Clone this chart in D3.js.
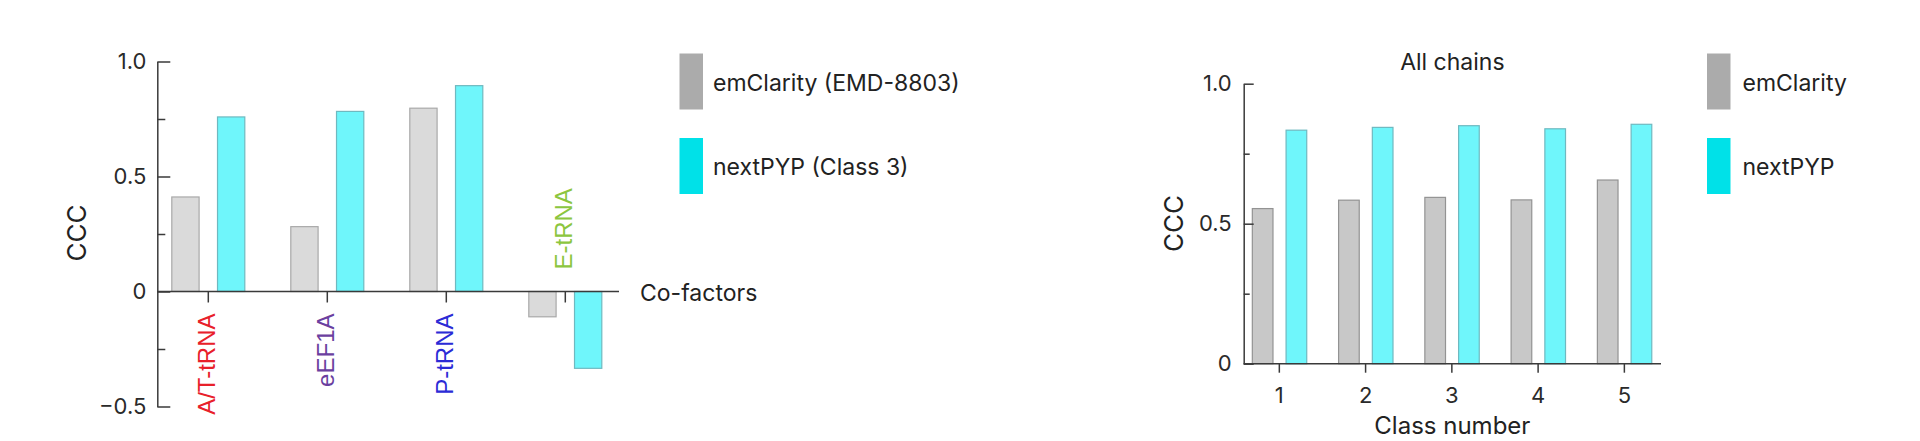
<!DOCTYPE html>
<html>
<head>
<meta charset="utf-8">
<script src="https://cdn.jsdelivr.net/npm/d3@7"></script>
<style>
  html, body { margin: 0; padding: 0; background: #fff; }
  svg { display: block; }
  text { font-family: Inter, "Noto Sans", sans-serif; }
</style>
</head>
<body>
<svg id="chart" width="1920" height="441"></svg>
<script>
// ---------- data ----------
const cofactors = ["A/T-tRNA", "eEF1A", "P-tRNA", "E-tRNA"];
const cofactorColors = ["#e8202a", "#6b3fa0", "#2b2bd6", "#8cc63f"];
const emClarityCofactor = [0.411, 0.282, 0.797, -0.110];
const nextPYPCofactor = [0.759, 0.783, 0.895, -0.334];

const classes = ["1", "2", "3", "4", "5"];
const emClarityClass = [0.554, 0.584, 0.594, 0.585, 0.656];
const nextPYPClass = [0.834, 0.844, 0.850, 0.839, 0.855];

const leftMajorTicks = [-0.5, 0, 0.5, 1.0];
const leftMinorTicks = [-0.25, 0.25, 0.75];
const rightMajorTicks = [0, 0.5, 1.0];
const rightMinorTicks = [0.25, 0.75];

const seriesKeys = ["emClarity", "nextPYP"];
const leftLegend = ["emClarity (EMD-8803)", "nextPYP (Class 3)"];
const rightLegend = ["emClarity", "nextPYP"];

// ---------- styles ----------
const axisColor = "#3a3a3a";
const textColor = "#222";
const legendColors = ["#ababab", "#00e1e8"];
const cyanFill = "#6ff6fb", cyanStroke = "#6fb9c0";

const svg = d3.select("#chart");

function fmt(v) {
  if (v === 0) return "0";
  const s = d3.format(".1f")(Math.abs(v));
  return (v < 0 ? "\u2212" : "") + s;
}

function drawYAxis(g, y, major, minor, majorLen, minorLen, pad) {
  g.append("g")
    .call(d3.axisLeft(y).tickValues(minor).tickSizeInner(-minorLen).tickSizeOuter(0).tickFormat(""))
    .call(s => s.select(".domain").remove());
  const a = g.append("g")
    .call(d3.axisLeft(y).tickValues(major).tickSizeInner(-majorLen).tickSizeOuter(0).tickPadding(pad).tickFormat(fmt));
  a.selectAll("path, line").attr("stroke", axisColor).attr("stroke-width", 1.5);
  g.selectAll("line").attr("stroke", axisColor).attr("stroke-width", 1.5);
  a.selectAll("text").style("font-family", "Inter, sans-serif").style("font-size", "22px").style("fill", "#2a2a2a");
  return a;
}

function drawLegend(g, x0, labels, gap) {
  labels.forEach((lab, i) => {
    g.append("rect")
      .attr("x", x0).attr("y", 53.5 + i * 84.5)
      .attr("width", 23.5).attr("height", 56)
      .attr("fill", legendColors[i]);
    g.append("text")
      .attr("x", x0 + 23.5 + gap).attr("y", 90.5 + i * 84.5)
      .style("font-size", "23px").style("fill", textColor)
      .text(lab);
  });
}

// ================= LEFT CHART =================
{
  const g = svg.append("g");
  const axisX = 157.3;
  const y = d3.scaleLinear().domain([-0.5, 1.0]).range([406.5, 61.5]);
  const x = d3.scaleBand().domain(cofactors).range([148.8, 624.8]).paddingInner(0).paddingOuter(0);
  const xs = d3.scaleBand().domain(seriesKeys).range([-36.5, 36.5]).paddingInner(0.403).paddingOuter(0);

  const rows = cofactors.map((c, i) => ({ c, i, vals: [emClarityCofactor[i], nextPYPCofactor[i]] }));

  // bars
  const grp = g.append("g").selectAll("g").data(rows).join("g")
    .attr("transform", d => `translate(${x(d.c) + x.bandwidth() / 2},0)`);
  grp.selectAll("rect").data(d => d.vals.map((v, k) => ({ v, k }))).join("rect")
    .attr("x", d => xs(seriesKeys[d.k]))
    .attr("width", xs.bandwidth())
    .attr("y", d => y(Math.max(0, d.v)))
    .attr("height", d => Math.abs(y(d.v) - y(0)))
    .attr("fill", d => d.k === 0 ? "#dadada" : cyanFill)
    .attr("stroke", d => d.k === 0 ? "#a9a9a9" : cyanStroke)
    .attr("stroke-width", 1.2);

  // y axis
  const ya = g.append("g").attr("transform", `translate(${axisX},0)`);
  drawYAxis(ya, y, leftMajorTicks, leftMinorTicks, 13, 8, 11);

  // x axis at zero
  const xa = g.append("g").attr("transform", `translate(0,${y(0)})`)
    .call(d3.axisBottom(x).tickSizeInner(11).tickSizeOuter(0).tickFormat(""));
  xa.select(".domain").remove();
  xa.selectAll("line").attr("stroke", axisColor).attr("stroke-width", 1.5);
  g.append("line")
    .attr("x1", axisX).attr("x2", 619).attr("y1", y(0)).attr("y2", y(0))
    .attr("stroke", axisColor).attr("stroke-width", 1.5);

  // category labels (rotated)
  g.append("g").selectAll("text").data(rows).join("text")
    .attr("transform", d => {
      const cx = x(d.c) + x.bandwidth() / 2 - 1.5;
      const neg = d.vals[0] < 0;
      const yy = neg ? y(0) - 22 : y(0) + 22;
      return `translate(${cx},${yy}) rotate(-90)`;
    })
    .attr("dy", "0.36em")
    .attr("text-anchor", d => d.vals[0] < 0 ? "start" : "end")
    .style("font-family", "'Liberation Sans', Arial, sans-serif")
    .style("font-size", "24px")
    .style("fill", d => cofactorColors[d.i])
    .text(d => d.c);

  // axis titles
  g.append("text").attr("x", 640).attr("y", y(0) + 9)
    .style("font-size", "23px").style("fill", textColor).text("Co-factors");
  g.append("text")
    .attr("transform", `translate(77,${233}) rotate(-90)`)
    .attr("text-anchor", "middle").attr("dy", "0.36em")
    .style("font-size", "26px").style("fill", textColor).text("CCC");

  drawLegend(g, 679.5, leftLegend, 10);
}

// ================= RIGHT CHART =================
{
  const g = svg.append("g");
  const axisX = 1243.7;
  const y = d3.scaleLinear().domain([0, 1.0]).range([363.7, 83.7]);
  const x = d3.scaleBand().domain(classes).range([1236.2, 1667.5]).paddingInner(0).paddingOuter(0);
  const xs = d3.scaleBand().domain(seriesKeys).range([-27, 27.4]).paddingInner(0.388).paddingOuter(0);

  const rows = classes.map((c, i) => ({ c, i, vals: [emClarityClass[i], nextPYPClass[i]] }));

  const grp = g.append("g").selectAll("g").data(rows).join("g")
    .attr("transform", d => `translate(${x(d.c) + x.bandwidth() / 2},0)`);
  grp.selectAll("rect").data(d => d.vals.map((v, k) => ({ v, k }))).join("rect")
    .attr("x", d => xs(seriesKeys[d.k]))
    .attr("width", xs.bandwidth())
    .attr("y", d => y(d.v))
    .attr("height", d => y(0) - y(d.v))
    .attr("fill", d => d.k === 0 ? "#c8c8c8" : cyanFill)
    .attr("stroke", d => d.k === 0 ? "#939393" : cyanStroke)
    .attr("stroke-width", 1.2);

  const ya = g.append("g").attr("transform", `translate(${axisX},0)`);
  drawYAxis(ya, y, rightMajorTicks, rightMinorTicks, 10, 6, 12);

  const xa = g.append("g").attr("transform", `translate(0,${y(0)})`)
    .call(d3.axisBottom(x).tickSizeInner(9).tickSizeOuter(0).tickPadding(15));
  xa.select(".domain").remove();
  xa.selectAll("line").attr("stroke", axisColor).attr("stroke-width", 1.5);
  xa.selectAll("text").style("font-family", "Inter, sans-serif").style("font-size", "22px").style("fill", "#2a2a2a");
  g.append("line")
    .attr("x1", axisX).attr("x2", 1661).attr("y1", y(0)).attr("y2", y(0))
    .attr("stroke", axisColor).attr("stroke-width", 1.5);

  const midX = (axisX + 1661) / 2;
  g.append("text").attr("x", midX).attr("y", 69.5).attr("text-anchor", "middle")
    .style("font-size", "23px").style("fill", textColor).text("All chains");
  g.append("text").attr("x", midX).attr("y", 434).attr("text-anchor", "middle")
    .style("font-size", "24px").style("fill", textColor).text("Class number");
  g.append("text")
    .attr("transform", `translate(1173.3,${223.5}) rotate(-90)`)
    .attr("text-anchor", "middle").attr("dy", "0.36em")
    .style("font-size", "26px").style("fill", textColor).text("CCC");

  drawLegend(g, 1707, rightLegend, 12);
}
</script>
</body>
</html>
